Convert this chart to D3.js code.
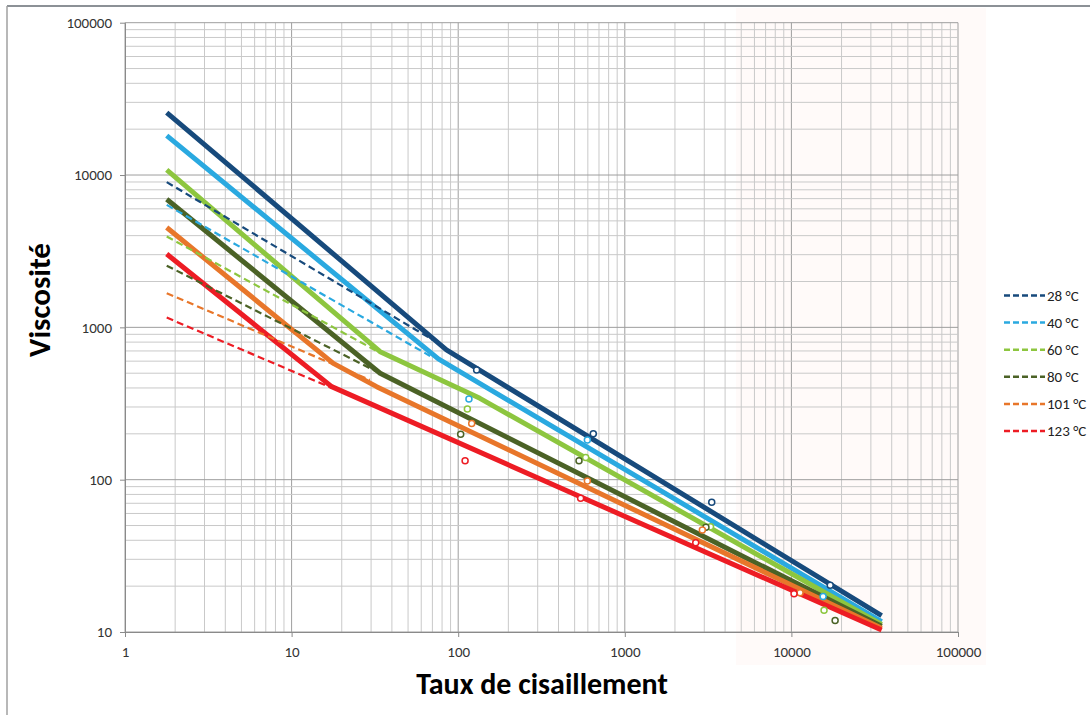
<!DOCTYPE html>
<html>
<head>
<meta charset="utf-8">
<script src="https://cdn.jsdelivr.net/npm/d3@7"></script>
<style>
  body { margin: 0; background: #fff; }
  text { font-family: Carlito, Lato, "Open Sans", sans-serif; }
</style>
</head>
<body>
<script>
// temperatures (legend)
var temps = ["28 °C", "40 °C", "60 °C", "80 °C", "101 °C", "123 °C"];
var colors = ["#174a7c", "#2aa9e0", "#8dc63f", "#4b6226", "#e8762a", "#ed1c24"];

// fitted model (thick solid lines), shear rate / viscosity per temperature
var fitShear = [
  [1.78, 85, 34800],
  [1.78, 76, 34800],
  [1.78, 34, 135, 34800],
  [1.78, 34, 34800],
  [1.78, 17.8, 32.4, 34800],
  [1.78, 17.4, 34800]
];
var fitVisc = [
  [25700, 711, 12.8],
  [18150, 621, 11.7],
  [10800, 692, 342, 11.2],
  [6930, 500, 10.9],
  [4520, 580, 408, 10.6],
  [3030, 408, 10.3]
];

// power law trends (dashed lines)
var trendShear = [
  [1.78, 70.6],
  [1.78, 67.8],
  [1.78, 34],
  [1.78, 33.9],
  [1.78, 29.5],
  [1.78, 17.4]
];
var trendVisc = [
  [8980, 826],
  [6370, 649],
  [3950, 680],
  [2540, 500],
  [1676, 452],
  [1159, 400]
];

// measured points (open circles)
var measShear = [
  [129, 647, 3325, 17100],
  [116, 596, 15500],
  [113.5, 582, 3270, 15700],
  [103.5, 531, 3070, 18300],
  [120.5, 596, 2920, 11270],
  [110, 543, 2665, 10370]
];
var measVisc = [
  [525, 200, 71, 20.3],
  [339, 182, 17.1],
  [291, 140, 49, 13.9],
  [199, 133, 48.7, 11.9],
  [234, 98, 46.8, 18.1],
  [133, 75.5, 38.5, 17.8]
];

var xTicks = [1, 10, 100, 1000, 10000, 100000];
var yTicks = [10, 100, 1000, 10000, 100000];

var width = 1090, height = 715;
var svg = d3.select("body").append("svg").attr("width", width).attr("height", height);

var x = d3.scaleLog().domain([1, 100000]).range([125, 958]);
var y = d3.scaleLog().domain([10, 100000]).range([632, 22.7]);

// outer frame (top and left edges only)
svg.append("line").attr("x1", 7).attr("x2", width).attr("y1", 6).attr("y2", 6)
  .attr("stroke", "#8c9196").attr("stroke-width", 2);
svg.append("line").attr("x1", 7).attr("x2", 7).attr("y1", 6).attr("y2", height)
  .attr("stroke", "#a0a0a0").attr("stroke-width", 1.5);

// faint tinted area on the right
svg.append("rect").attr("x", 736).attr("y", 8).attr("width", 250).attr("height", 657)
  .attr("fill", "#fffaf9");

function isMajor(v) { return Math.abs(Math.log10(v) - Math.round(Math.log10(v))) < 1e-9; }

var grid = svg.append("g");
x.ticks().forEach(function(v) {
  grid.append("line")
    .attr("x1", x(v)).attr("x2", x(v)).attr("y1", y(100000)).attr("y2", y(10))
    .attr("stroke", isMajor(v) ? "#9e9e9e" : "#c9c9c9").attr("stroke-width", 1);
});
y.ticks().forEach(function(v) {
  grid.append("line")
    .attr("x1", x(1)).attr("x2", x(100000)).attr("y1", y(v)).attr("y2", y(v))
    .attr("stroke", isMajor(v) ? "#9e9e9e" : "#c9c9c9").attr("stroke-width", 1);
});

// axes
var xAxis = svg.append("g").attr("transform", "translate(0," + y(10) + ")")
  .call(d3.axisBottom(x).tickValues(xTicks).tickFormat(d3.format("d")).tickSize(5).tickSizeOuter(0).tickPadding(9));
var yAxis = svg.append("g").attr("transform", "translate(" + x(1) + ",0)")
  .call(d3.axisLeft(y).tickValues(yTicks).tickFormat(d3.format("d")).tickSize(5).tickSizeOuter(0).tickPadding(8));
[xAxis, yAxis].forEach(function(a) {
  a.select(".domain").attr("stroke", "#8a8a8a");
  a.selectAll(".tick line").attr("stroke", "#8a8a8a");
  a.selectAll("text").attr("font-size", 15).attr("fill", "#333")
    .style("font-family", "Carlito, Lato, sans-serif");
});

var line = d3.line().x(function(d) { return x(d[0]); }).y(function(d) { return y(d[1]); });

// solid fitted lines
temps.forEach(function(t, i) {
  var pts = fitShear[i].map(function(s, j) { return [s, fitVisc[i][j]]; });
  svg.append("path").attr("d", line(pts)).attr("fill", "none")
    .attr("stroke", colors[i]).attr("stroke-width", 5).attr("stroke-linejoin", "round");
});

// dashed trend lines
temps.forEach(function(t, i) {
  var pts = trendShear[i].map(function(s, j) { return [s, trendVisc[i][j]]; });
  svg.append("path").attr("d", line(pts)).attr("fill", "none")
    .attr("stroke", colors[i]).attr("stroke-width", 2.2).attr("stroke-dasharray", "7,4");
});

// measured points
temps.forEach(function(t, i) {
  var pts = measShear[i].map(function(s, j) { return [s, measVisc[i][j]]; });
  svg.selectAll(null).data(pts).enter().append("circle")
    .attr("cx", function(d) { return x(d[0]); })
    .attr("cy", function(d) { return y(d[1]); })
    .attr("r", 3).attr("fill", "#fff")
    .attr("stroke", colors[i]).attr("stroke-width", 1.5);
});

// legend
var leg = svg.append("g");
temps.forEach(function(t, i) {
  var ly = 295.5 + i * 27.1;
  leg.append("line").attr("x1", 1004).attr("x2", 1045).attr("y1", ly).attr("y2", ly)
    .attr("stroke", colors[i]).attr("stroke-width", 2.5).attr("stroke-dasharray", "6,3");
  leg.append("text").attr("x", 1047).attr("y", ly).attr("dy", "0.35em")
    .attr("font-size", 15).attr("fill", "#222").text(t);
});

// axis titles
svg.append("text").attr("x", 542).attr("y", 694).attr("text-anchor", "middle")
  .attr("font-size", 30).attr("font-weight", "bold").attr("fill", "#000")
  .text("Taux de cisaillement");
svg.append("text").attr("transform", "translate(50,300) rotate(-90)").attr("text-anchor", "middle")
  .attr("font-size", 31).attr("font-weight", "bold").attr("fill", "#000")
  .text("Viscosité");
</script>
</body>
</html>
